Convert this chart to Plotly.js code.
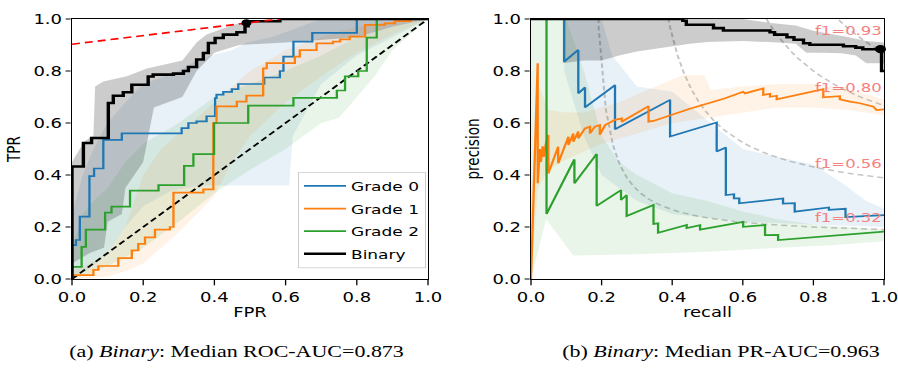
<!DOCTYPE html>
<html><head><meta charset="utf-8">
<script src="https://cdn.plot.ly/plotly-3.0.1.min.js"></script>
<style>
html,body{margin:0;padding:0;width:898px;height:372px;overflow:hidden;background:#fff;}
#wrap{width:898px;height:372px;overflow:hidden;}
#chart{width:898px;height:495px;transform:scaleY(0.75152);transform-origin:0 0;}
</style></head><body><div id="wrap"><div id="chart"></div></div>
<script>
// ---------- ROC curves (step points) ----------
const g0Fpr = [0, 0, 0.011, 0.022, 0.049, 0.062, 0.088, 0.14, 0.308, 0.327, 0.35, 0.378, 0.402, 0.406, 0.425, 0.449, 0.467, 0.54, 0.584, 0.594, 0.622, 0.675, 0.8, 1.0];
const g0Tpr = [0, 0.13, 0.15, 0.24, 0.396, 0.425, 0.535, 0.56, 0.58, 0.60, 0.606, 0.626, 0.696, 0.709, 0.72, 0.73, 0.75, 0.775, 0.80, 0.855, 0.913, 0.947, 1.0, 1.0];
const g1Fpr = [0, 0, 0.06, 0.074, 0.13, 0.168, 0.186, 0.205, 0.233, 0.275, 0.285, 0.369, 0.397, 0.406, 0.463, 0.49, 0.537, 0.547, 0.626, 0.64, 0.687, 0.733, 0.753, 0.78, 0.823, 0.879, 0.907, 0.95, 1.0];
const g1Tpr = [0, 0.015, 0.035, 0.05, 0.08, 0.11, 0.135, 0.16, 0.19, 0.2, 0.332, 0.345, 0.6, 0.664, 0.682, 0.705, 0.81, 0.83, 0.855, 0.88, 0.906, 0.913, 0.922, 0.932, 0.977, 0.983, 0.992, 1.0, 1.0];
const g2Fpr = [0, 0, 0.027, 0.039, 0.093, 0.111, 0.163, 0.243, 0.315, 0.341, 0.399, 0.495, 0.622, 0.744, 0.767, 0.804, 0.828, 0.856, 1.0];
const g2Tpr = [0, 0.047, 0.124, 0.19, 0.255, 0.278, 0.34, 0.361, 0.435, 0.48, 0.6, 0.667, 0.697, 0.725, 0.779, 0.8, 0.928, 1.0, 1.0];
const binFpr = [0, 0, 0.032, 0.055, 0.102, 0.116, 0.144, 0.168, 0.214, 0.228, 0.285, 0.313, 0.327, 0.35, 0.369, 0.383, 0.402, 0.425, 0.463, 0.486, 0.495, 0.584, 1.0];
const binTpr = [0, 0.433, 0.523, 0.542, 0.677, 0.705, 0.718, 0.747, 0.779, 0.786, 0.79, 0.80, 0.815, 0.844, 0.869, 0.908, 0.927, 0.94, 0.949, 0.972, 0.991, 1.0, 1.0];

// ROC bands (upper / lower bounds)
const g0RocUpX = [0, 0.03, 0.06, 0.1, 0.15, 0.2, 0.3, 0.35, 0.39, 0.45, 0.49, 0.56, 0.62, 0.7, 1.0];
const g0RocUpY = [0.25, 0.4, 0.5, 0.6, 0.68, 0.75, 0.8, 0.84, 0.86, 0.88, 0.91, 0.93, 0.96, 1.0, 1.0];
const g0RocLoX = [0, 0.05, 0.1, 0.15, 0.2, 0.28, 0.36, 0.5, 0.61, 0.62, 0.66, 0.7, 0.8, 0.9, 1.0];
const g0RocLoY = [0.0, 0.04, 0.1, 0.2, 0.28, 0.34, 0.36, 0.36, 0.36, 0.55, 0.65, 0.75, 0.86, 0.93, 1.0];
const g1RocUpX = [0, 0.05, 0.1, 0.15, 0.2, 0.25, 0.3, 0.35, 0.4, 0.45, 0.5, 0.6, 0.7, 0.8, 0.9, 1.0];
const g1RocUpY = [0.03, 0.06, 0.1, 0.2, 0.4, 0.5, 0.56, 0.62, 0.68, 0.74, 0.8, 0.88, 0.93, 0.97, 0.99, 1.0];
const g1RocLoX = [0, 0.1, 0.15, 0.2, 0.25, 0.3, 0.35, 0.4, 0.45, 0.5, 0.6, 0.7, 0.8, 0.9, 1.0];
const g1RocLoY = [0, 0.01, 0.03, 0.06, 0.12, 0.18, 0.25, 0.32, 0.45, 0.55, 0.68, 0.78, 0.87, 0.94, 1.0];
const g2RocUpX = [0, 0.03, 0.06, 0.1, 0.15, 0.2, 0.3, 0.4, 0.5, 0.6, 0.7, 0.8, 0.9, 1.0];
const g2RocUpY = [0.12, 0.25, 0.3, 0.35, 0.45, 0.52, 0.6, 0.7, 0.75, 0.8, 0.86, 0.93, 0.97, 1.0];
const g2RocLoX = [0, 0.05, 0.1, 0.2, 0.3, 0.4, 0.5, 0.6, 0.7, 0.75, 0.8, 0.85, 0.9, 1.0];
const g2RocLoY = [0, 0.02, 0.05, 0.12, 0.22, 0.33, 0.42, 0.5, 0.6, 0.62, 0.7, 0.78, 0.88, 1.0];
const binRocUpX = [0, 0.035, 0.06, 0.065, 0.088, 0.154, 0.21, 0.31, 0.35, 0.378, 0.416, 0.47, 0.55, 1.0];
const binRocUpY = [0.45, 0.53, 0.55, 0.74, 0.76, 0.78, 0.81, 0.84, 0.91, 0.94, 0.96, 0.985, 1.0, 1.0];
const binRocLoX = [0, 0.05, 0.09, 0.1, 0.14, 0.15, 0.2, 0.23, 0.31, 0.35, 0.4, 0.47, 0.6, 0.8, 0.9, 1.0];
const binRocLoY = [0.06, 0.1, 0.12, 0.22, 0.25, 0.35, 0.45, 0.66, 0.7, 0.8, 0.87, 0.9, 0.91, 0.93, 0.97, 1.0];

const diagX = [0, 1], diagY = [0, 1];
const redFpr = [0, 0.585], redTpr = [0.903, 1.0];
const rocDotFpr = [0.49], rocDotTpr = [0.985];

// ---------- PR curves ----------
const g0Rec = [0, 0.094, 0.094, 0.134, 0.134, 0.153, 0.153, 0.238, 0.238, 0.394, 0.394, 0.526, 0.526, 0.552, 0.552, 0.575, 0.575, 0.59, 0.59, 0.714, 0.714, 0.747, 0.747, 0.844, 0.844, 0.891, 0.891, 1.0];
const g0Prec = [1.0, 1.0, 0.836, 0.881, 0.714, 0.737, 0.66, 0.746, 0.576, 0.689, 0.548, 0.602, 0.49, 0.506, 0.323, 0.326, 0.31, 0.31, 0.291, 0.31, 0.29, 0.292, 0.259, 0.275, 0.266, 0.27, 0.238, 0.246];
const g1Rec = [0, 0.019, 0.019, 0.025, 0.028, 0.033, 0.036, 0.042, 0.049, 0.049, 0.077, 0.077, 0.106, 0.106, 0.12, 0.12, 0.134, 0.134, 0.153, 0.167, 0.167, 0.181, 0.195, 0.195, 0.21, 0.238, 0.257, 0.257, 0.333, 0.333, 0.347, 0.45, 0.55, 0.601, 0.606, 0.658, 0.658, 0.677, 0.677, 0.696, 0.696, 0.76, 0.828, 0.828, 0.875, 0.875, 0.904, 0.932, 0.97, 0.979, 1.0];
const g1Prec = [0, 0.83, 0.368, 0.5, 0.45, 0.51, 0.47, 0.52, 0.554, 0.406, 0.509, 0.445, 0.547, 0.515, 0.56, 0.528, 0.567, 0.541, 0.579, 0.586, 0.56, 0.586, 0.592, 0.555, 0.592, 0.612, 0.618, 0.605, 0.665, 0.605, 0.608, 0.655, 0.695, 0.72, 0.714, 0.733, 0.708, 0.712, 0.701, 0.705, 0.691, 0.71, 0.73, 0.699, 0.703, 0.691, 0.682, 0.676, 0.663, 0.65, 0.652];
const g2Rec = [0, 0.044, 0.044, 0.123, 0.123, 0.186, 0.186, 0.255, 0.255, 0.271, 0.271, 0.347, 0.347, 0.36, 0.36, 0.441, 0.441, 0.479, 0.479, 0.601, 0.601, 0.663, 0.663, 0.70, 0.70, 1.0];
const g2Prec = [1.0, 1.0, 0.25, 0.46, 0.368, 0.481, 0.281, 0.342, 0.304, 0.323, 0.242, 0.285, 0.212, 0.214, 0.178, 0.208, 0.196, 0.207, 0.19, 0.22, 0.201, 0.208, 0.169, 0.17, 0.15, 0.182];
const binRec = [0, 0.41, 0.43, 0.44, 0.517, 0.545, 0.677, 0.69, 0.725, 0.745, 0.772, 0.79, 0.885, 0.92, 0.94, 0.99, 0.993, 1.0];
const binPrec = [1.0, 1.0, 0.993, 0.978, 0.965, 0.956, 0.949, 0.94, 0.93, 0.92, 0.907, 0.901, 0.895, 0.89, 0.884, 0.884, 0.80, 0.80];

// PR bands
const g0PrUpX = [0.094, 0.2, 0.23, 0.3, 0.4, 0.545, 0.6, 0.67, 0.8, 0.88, 0.95, 1.0];
const g0PrUpY = [1.0, 1.0, 0.86, 0.74, 0.72, 0.56, 0.5, 0.478, 0.44, 0.37, 0.3, 0.27];
const g0PrLoX = [0.094, 0.15, 0.2, 0.3, 0.4, 0.6, 0.8, 1.0];
const g0PrLoY = [0.8, 0.55, 0.4, 0.3, 0.25, 0.22, 0.21, 0.2];
const g1PrUpX = [0, 0.02, 0.05, 0.1, 0.15, 0.2, 0.25, 0.3, 0.43, 0.49, 0.51, 0.6, 0.7, 0.8, 0.9, 1.0];
const g1PrUpY = [0.3, 0.75, 0.65, 0.64, 0.64, 0.66, 0.68, 0.71, 0.785, 0.785, 0.727, 0.74, 0.75, 0.75, 0.73, 0.69];
const g1PrLoX = [0, 0.02, 0.05, 0.1, 0.2, 0.3, 0.4, 0.5, 0.6, 0.7, 0.8, 0.9, 1.0];
const g1PrLoY = [0.0, 0.35, 0.42, 0.46, 0.52, 0.56, 0.6, 0.62, 0.64, 0.66, 0.66, 0.65, 0.63];
const g2PrUpX = [0, 0.1, 0.15, 0.2, 0.25, 0.3, 0.4, 0.5, 0.6, 0.7, 0.8, 0.9, 1.0];
const g2PrUpY = [1, 1, 0.8, 0.55, 0.45, 0.4, 0.33, 0.3, 0.26, 0.23, 0.21, 0.2, 0.19];
const g2PrLoX = [0, 0.043, 0.12, 0.3, 0.5, 0.7, 0.85, 1.0];
const g2PrLoY = [0, 0.23, 0.09, 0.095, 0.105, 0.12, 0.13, 0.145];
const binPrUpX = [0.09, 0.6, 0.68, 0.75, 0.8, 0.9, 0.95, 1.0];
const binPrUpY = [1.0, 1.0, 0.985, 0.975, 0.955, 0.93, 0.915, 0.91];
const binPrLoX = [0.09, 0.15, 0.2, 0.25, 0.3, 0.4, 0.45, 0.5, 0.6, 0.7, 0.75, 0.78, 0.82, 0.88, 0.92, 0.95, 1.0];
const binPrLoY = [0.83, 0.84, 0.84, 0.86, 0.875, 0.895, 0.905, 0.912, 0.915, 0.91, 0.905, 0.87, 0.87, 0.868, 0.86, 0.83, 0.83];

const prDotRec = [0.99], prDotPrec = [0.884];

// iso-F1 curves
const f1Scores = [0.32, 0.56, 0.80, 0.93];
const f1Labels = ['f1=0.32', 'f1=0.56', 'f1=0.80', 'f1=0.93'];

const seriesNames = ['Grade 0', 'Grade 1', 'Grade 2', 'Binary'];
const tickVals = [0, 0.2, 0.4, 0.6, 0.8, 1.0];
const tickText = ['0.0', '0.2', '0.4', '0.6', '0.8', '1.0'];
const captions = ['(a) <i>Binary</i>: Median ROC-AUC=0.873', '(b) <i>Binary</i>: Median PR-AUC=0.963'];

// ---------- build ----------
const C = {b:'#1f77b4', o:'#ff7f0e', g:'#2ca02c', k:'#000000'};
const F = {b:'rgba(31,119,180,0.1)', o:'rgba(255,127,14,0.1)', g:'rgba(44,160,44,0.1)', k:'rgba(0,0,0,0.2)'};

function band(ux, uy, lx, ly, fill, xa, ya){
  return {type:'scatter', mode:'lines', x: ux.concat(lx.slice().reverse()), y: uy.concat(ly.slice().reverse()),
    fill:'toself', fillcolor:fill, line:{width:0, color:fill}, hoverinfo:'skip', showlegend:false, xaxis:xa, yaxis:ya};
}
function line(x, y, color, w, name, show, xa, ya, shape){
  return {type:'scatter', mode:'lines', x:x, y:y, name:name, showlegend:show, legendgroup:name,
    line:{color:color, width:w, shape:shape||'linear'}, hoverinfo:'skip', xaxis:xa, yaxis:ya};
}

const traces = [];
// iso f1 curves
const recGrid = [];
for (let i = 0; i < 50; i++) recGrid.push(0.01 + i * 0.99 / 49);
f1Scores.forEach(f => {
  const xs = [], ys = [];
  recGrid.forEach(r => { const p = f * r / (2 * r - f); if (p >= 0) { xs.push(r); ys.push(p); } });
  traces.push({type:'scatter', mode:'lines', x:xs, y:ys, line:{color:'rgba(128,128,128,0.45)', width:2, dash:'6px,4px'},
    hoverinfo:'skip', showlegend:false, xaxis:'x2', yaxis:'y2'});
});
// bands ROC
traces.push(band(g0RocUpX, g0RocUpY, g0RocLoX, g0RocLoY, F.b, 'x', 'y'));
traces.push(band(g1RocUpX, g1RocUpY, g1RocLoX, g1RocLoY, F.o, 'x', 'y'));
traces.push(band(g2RocUpX, g2RocUpY, g2RocLoX, g2RocLoY, F.g, 'x', 'y'));
traces.push(band(binRocUpX, binRocUpY, binRocLoX, binRocLoY, F.k, 'x', 'y'));
// bands PR
traces.push(band(g0PrUpX, g0PrUpY, g0PrLoX, g0PrLoY, F.b, 'x2', 'y2'));
traces.push(band(g1PrUpX, g1PrUpY, g1PrLoX, g1PrLoY, F.o, 'x2', 'y2'));
traces.push(band(g2PrUpX, g2PrUpY, g2PrLoX, g2PrLoY, F.g, 'x2', 'y2'));
traces.push(band(binPrUpX, binPrUpY, binPrLoX, binPrLoY, F.k, 'x2', 'y2'));
// diagonal
traces.push({type:'scatter', mode:'lines', x:diagX, y:diagY, line:{color:'#000', width:2.2, dash:'7px,4px'}, hoverinfo:'skip', showlegend:false, xaxis:'x', yaxis:'y'});
// ROC lines
traces.push(line(g0Fpr, g0Tpr, C.b, 2.3, seriesNames[0], true, 'x', 'y', 'hv'));
traces.push(line(g1Fpr, g1Tpr, C.o, 2.3, seriesNames[1], true, 'x', 'y', 'hv'));
traces.push(line(g2Fpr, g2Tpr, C.g, 2.3, seriesNames[2], true, 'x', 'y', 'hv'));
traces.push(line(binFpr, binTpr, C.k, 3.4, seriesNames[3], true, 'x', 'y', 'hv'));
// PR lines
traces.push(line(g0Rec, g0Prec, C.b, 2.3, seriesNames[0], false, 'x2', 'y2'));
traces.push(line(g1Rec, g1Prec, C.o, 2.3, seriesNames[1], false, 'x2', 'y2'));
traces.push(line(g2Rec, g2Prec, C.g, 2.3, seriesNames[2], false, 'x2', 'y2'));
traces.push(line(binRec, binPrec, C.k, 3.4, seriesNames[3], false, 'x2', 'y2', 'hv'));
// red dashed
traces.push({type:'scatter', mode:'lines', x:redFpr, y:redTpr, line:{color:'#ff0000', width:2.2, dash:'8px,5px'}, hoverinfo:'skip', showlegend:false, xaxis:'x', yaxis:'y'});
// dots
traces.push({type:'scatter', mode:'markers', x:rocDotFpr, y:rocDotTpr, marker:{color:'#000', size:10}, cliponaxis:false, hoverinfo:'skip', showlegend:false, xaxis:'x', yaxis:'y'});
traces.push({type:'scatter', mode:'markers', x:prDotRec, y:prDotPrec, marker:{color:'#000', size:11}, cliponaxis:false, hoverinfo:'skip', showlegend:false, xaxis:'x2', yaxis:'y2'});

const W = 898, H = 495;
const tickFont = {family:'DejaVu Sans', size:18, color:'#000'};
function xAx(dom, anchor, title){
  return {domain:dom, anchor:anchor, range:[0,1], tickmode:'array', tickvals:tickVals, ticktext:tickText, ticks:'outside', ticklen:7, tickwidth:1.3, tickcolor:'#000',
    ticklabeloverflow:'allow', showline:true, mirror:true, linecolor:'#000', linewidth:1.4, showgrid:false, zeroline:false, tickfont:tickFont,
    title:{text:title, font:{family:'DejaVu Sans', size:18, color:'#000'}, standoff:5}, fixedrange:true};
}
function yAx(dom, anchor, title){
  return {domain:dom, anchor:anchor, range:[0,1], tickmode:'array', tickvals:tickVals, ticktext:tickText, ticks:'outside', ticklen:5, tickwidth:1.3, tickcolor:'#000',
    ticklabeloverflow:'allow', showline:true, mirror:true, linecolor:'#000', linewidth:1.4, showgrid:false, zeroline:false, tickfont:tickFont,
    title:{text:title, font:{family:'DejaVu Sans', size:18, color:'#000'}, standoff:8}, fixedrange:true};
}
const yDom = [1 - 279/372, 1 - 19/372];

const annotations = [];
f1Scores.forEach((f, i) => {
  const r = 0.95;
  annotations.push({xref:'x2', yref:'y2', x:0.8, y: f * r / (2 * r - f) + 0.02, text:f1Labels[i], showarrow:false,
    xanchor:'left', yanchor:'bottom', yshift:-3, font:{family:'DejaVu Sans', size:16.5, color:'#f58282'}});
});
annotations.push({xref:'paper', yref:'paper', x:237/898, y:1 - 351/372, text:captions[0], showarrow:false, xanchor:'center', yanchor:'middle',
  font:{family:'Liberation Serif', size:22, color:'#000'}});
annotations.push({xref:'paper', yref:'paper', x:721/898, y:1 - 351/372, text:captions[1], showarrow:false, xanchor:'center', yanchor:'middle',
  font:{family:'Liberation Serif', size:22, color:'#000'}});

const layout = {
  width:W, height:H, margin:{l:0, r:0, t:0, b:0}, paper_bgcolor:'#fff', plot_bgcolor:'#fff',
  font:{family:'DejaVu Sans', color:'#000'},
  xaxis: xAx([72/898, 428/898], 'y', 'FPR'),
  yaxis: yAx(yDom, 'x', 'TPR'),
  xaxis2: xAx([531/898, 884/898], 'y2', 'recall'),
  yaxis2: yAx(yDom, 'x2', 'precision'),
  showlegend:true,
  legend:{x:298/898, y:1 - 172/372, xanchor:'left', yanchor:'top', bgcolor:'rgba(255,255,255,0.85)', bordercolor:'#cccccc', borderwidth:1,
    font:{family:'DejaVu Sans', size:17, color:'#000'}, traceorder:'grouped', tracegroupgap:5, itemwidth:42},
  annotations: annotations
};
Plotly.newPlot('chart', traces, layout, {displayModeBar:false, staticPlot:true});
</script></body></html>
